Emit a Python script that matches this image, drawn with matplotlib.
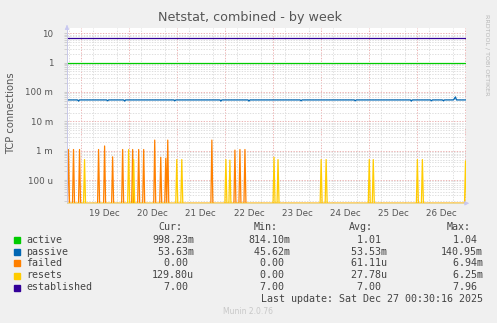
import numpy as np
import matplotlib
matplotlib.use('Agg')
import matplotlib.pyplot as plt
import matplotlib.dates as mdates
from datetime import datetime, timedelta

W, H = 497, 323

# time axis: hours relative to 19 Dec 2025 00:00, 30 minute samples
t0 = datetime(2025, 12, 19)
start_h, end_h = -6.75, 192.25
step_h = 0.5

# constant-ish series
active_level = 1.0
established_level = 7.0
passive_level = 0.0536
passive_hours = [-1.0, 13.5, 22.0, 47.0, 70.0, 84.0, 110.0, 137.0, 165.0, 175.0, 181.0, 186.5, 187.0]
passive_vals = [0.049, 0.050, 0.049, 0.050, 0.049, 0.049, 0.050, 0.050, 0.049, 0.050, 0.050, 0.060, 0.068]

# spikes (everything else is 0)
failed_hours = [-6.0, -3.5, -0.5, 9.0, 12.0, 16.0, 21.0, 26.0, 29.0, 31.5,
                37.0, 40.0, 42.5, 43.5, 65.5, 77.0, 79.5, 82.0]
failed_vals = [1.1e-3, 1.1e-3, 1.1e-3, 1.1e-3, 1.45e-3, 0.62e-3, 1.1e-3, 1.1e-3, 1.1e-3, 1.1e-3,
               2.3e-3, 0.6e-3, 0.55e-3, 2.3e-3, 2.3e-3, 1.05e-3, 1.1e-3, 1.1e-3]
resets_hours = [2.0, 24.0, 26.5, 48.0, 50.5, 72.5, 74.5, 96.5, 98.5,
                120.0, 122.5, 144.0, 146.0, 168.0, 170.5, 192.0]
resets_vals = [0.5e-3, 1.1e-3, 0.5e-3, 0.5e-3, 0.5e-3, 0.5e-3, 0.48e-3, 0.6e-3, 0.5e-3,
               0.5e-3, 0.5e-3, 0.5e-3, 0.5e-3, 0.5e-3, 0.5e-3, 0.45e-3]

names = ['active', 'passive', 'failed', 'resets', 'established']
colors = ['#00CC00', '#0066B3', '#FF8000', '#FFCC00', '#330099']
cur = ['998.23m', ' 53.63m', '  0.00 ', '129.80u', '  7.00 ']
mins = ['814.10m', ' 45.62m', '  0.00 ', '  0.00 ', '  7.00 ']
avgs = ['  1.01 ', ' 53.53m', ' 61.11u', ' 27.78u', '  7.00 ']
maxs = ['  1.04 ', '140.95m', '  6.94m', '  6.25m', '  7.96 ']

ytick_vals = [10, 1, 0.1, 0.01, 1e-3, 1e-4]
ytick_labels = ['10', '1', '100 m', '10 m', '1 m', '100 u']


def series(base, hours, vals):
    s = np.full(len(t_h), base, dtype=float)
    for h, v in zip(hours, vals):
        s[int(round((h - t_h[0]) / step_h))] = v
    return s


t_h = np.arange(-7.0, 192.5 + step_h / 2, step_h)
t = mdates.date2num([t0 + timedelta(hours=float(h)) for h in t_h])

ymin, ymax = 1.62e-5, 15.7
floor = ymin  # zero on a log axis -> draw at the bottom edge, like rrdtool
data = [
    series(active_level, [], []),
    series(passive_level, passive_hours, passive_vals),
    np.maximum(series(0.0, failed_hours, failed_vals), floor),
    np.maximum(series(0.0, resets_hours, resets_vals), floor),
    series(established_level, [], []),
]

fig = plt.figure(figsize=(W / 100, H / 100), dpi=100, facecolor='#F0F0F0')
ax = fig.add_axes([67 / W, 1 - 203.3 / H, 399 / W, (203.3 - 27.5) / H])
ax.set_facecolor('white')
ax.set_yscale('log')
ax.set_ylim(ymin, ymax)
x0 = mdates.date2num(t0 + timedelta(hours=start_h))
x1 = mdates.date2num(t0 + timedelta(hours=end_h))
ax.set_xlim(x0, x1)

# grid
grey = '#dedede'
red = '#ecb4b4'
dots = (0, (1.4, 1.4))
ax.yaxis.set_minor_locator(matplotlib.ticker.LogLocator(base=10, subs=np.arange(2, 10)))
ax.yaxis.set_minor_formatter(matplotlib.ticker.NullFormatter())
ax.xaxis.set_minor_locator(mdates.HourLocator(byhour=[6, 12, 18]))
ax.grid(which='minor', axis='both', color=grey, lw=0.7, ls=dots)
ax.grid(which='major', axis='y', color=red, lw=0.7, ls=dots)
for k in range(9):
    ax.axvline(mdates.date2num(t0 + timedelta(days=k)), color=red, lw=0.7, ls=dots, zorder=0.5)

ax.set_yticks(ytick_vals, labels=ytick_labels)
ax.xaxis.set_major_locator(mdates.HourLocator(byhour=12))
ax.xaxis.set_major_formatter(mdates.DateFormatter('%d %b'))
ax.tick_params(axis='x', which='both', length=0, pad=4, labelsize=6.3, labelcolor='#555555')
ax.tick_params(axis='y', which='both', length=2, color='#cccccc', pad=8, labelsize=6.3, labelcolor='#555555')
ax.set_axisbelow(True)

for s, c in zip(data, colors):
    ax.plot(t, s, color=c, lw=0.9, clip_on=True)

for sp in ['top', 'right']:
    ax.spines[sp].set_visible(False)
ax.spines['left'].set_color('#c8c8e8')
ax.spines['bottom'].set_color('#e8d898')
ax.spines['left'].set_linewidth(0.7)
ax.spines['bottom'].set_linewidth(0.7)

# axis arrows
ax.annotate('', xy=(0, 1.03), xytext=(0, 0.99), xycoords='axes fraction',
            arrowprops=dict(arrowstyle='-|>', color='#c8c8f0', lw=0.7, mutation_scale=6), annotation_clip=False)
ax.annotate('', xy=(1.015, 0), xytext=(0.99, 0), xycoords='axes fraction',
            arrowprops=dict(arrowstyle='-|>', color='#c8c8f0', lw=0.7, mutation_scale=6), annotation_clip=False)


def ftext(x, y, s, **kw):
    fig.text(x / W, 1 - y / H, s, **kw)


ftext(250, 17, 'Netstat, combined - by week', ha='center', va='center', fontsize=9.2, color='#555555')
ftext(11, 113, 'TCP connections', ha='center', va='center', rotation=90, fontsize=7.2, color='#555555')
ftext(487, 55, 'RRDTOOL / TOBI OETIKER', ha='center', va='center', rotation=270, fontsize=4.6, color='#b8b8b8')

mono = dict(family='DejaVu Sans Mono', fontsize=7.2, color='#444444', va='center')
ftext(182, 227, 'Cur:', ha='right', **mono)
ftext(278, 227, 'Min:', ha='right', **mono)
ftext(373, 227, 'Avg:', ha='right', **mono)
ftext(471, 227, 'Max:', ha='right', **mono)
rows_y = [240, 251.7, 263.3, 275.5, 287.5]
for i, y in enumerate(rows_y):
    fig.patches.append(plt.Rectangle(((14) / W, 1 - (y + 3) / H), 6 / W, 6 / H,
                                     transform=fig.transFigure, color=colors[i]))
    ftext(26, y, names[i], ha='left', **mono)
    ftext(194, y, cur[i], ha='right', **mono)
    ftext(290, y, mins[i], ha='right', **mono)
    ftext(387, y, avgs[i], ha='right', **mono)
    ftext(483, y, maxs[i], ha='right', **mono)
ftext(483, 299.5, 'Last update: Sat Dec 27 00:30:16 2025', ha='right', **mono)
ftext(248, 312, 'Munin 2.0.76', ha='center', va='center', family='DejaVu Sans', fontsize=5.5, color='#c8c8c8')

fig.savefig('out.png', dpi=100, facecolor=fig.get_facecolor())
